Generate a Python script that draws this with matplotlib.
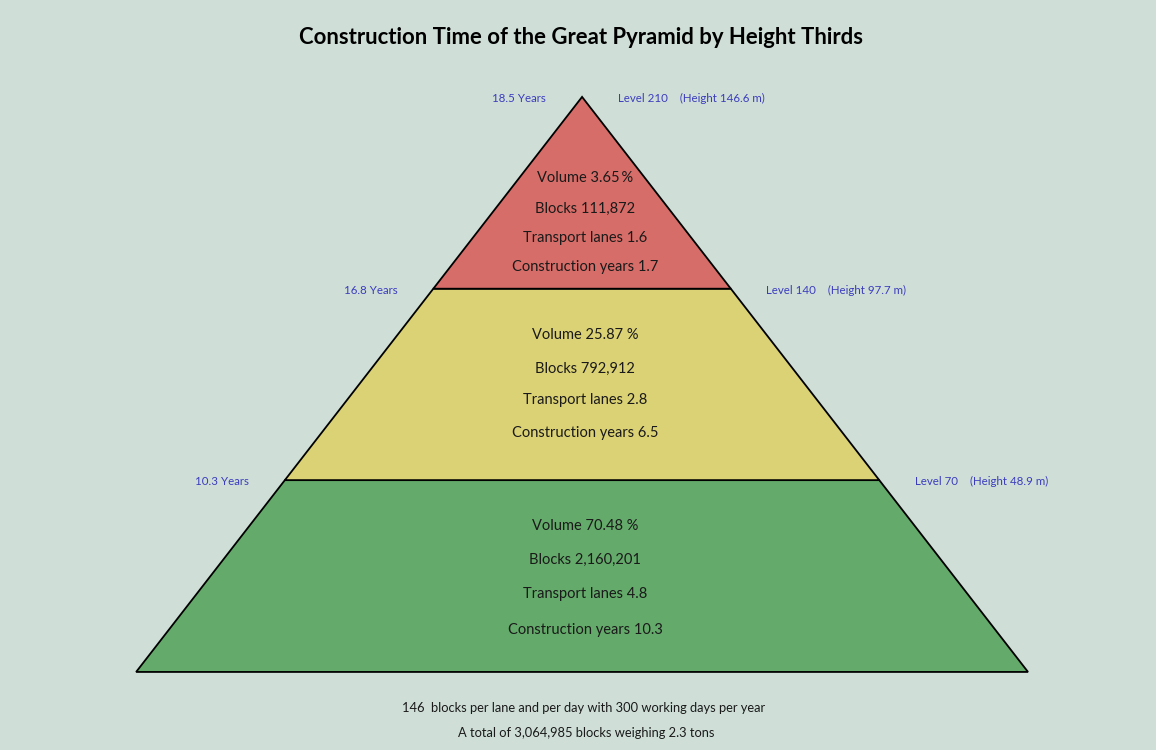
import matplotlib
matplotlib.use("Agg")
import matplotlib.pyplot as plt

# ---------------- data ----------------
level_names = ["Level 70", "Level 140", "Level 210"]
level_heights = [48.9, 97.7, 146.6]          # m, top of each third
tier_bottoms = [0.0, 48.9, 97.7]              # m
tier_tops = [48.9, 97.7, 146.6]               # m
volume_pct = ["70.48 %", "25.87 %", "3.65\u2009%"]
blocks = [2160201, 792912, 111872]
lanes = [4.8, 2.8, 1.6]
years = [10.3, 6.5, 1.7]
cumulative_years = [10.3, 16.8, 18.5]
base_width = 230.3                            # m
title = "Construction Time of the Great Pyramid by Height Thirds"
footer_lines = ["146  blocks per lane and per day with 300 working days per year",
                "A total of 3,064,985 blocks weighing 2.3 tons"]

# ---------------- style ----------------
bg = "#cfdfd8"
tier_colors = ["#64aa6a", "#dbd175", "#d76d68"]
blue = "#3c3cbc"
# row offsets (m above tier bottom) for the four text lines
row_offsets = [[37.2, 28.6, 19.9, 10.7],
               [37.0, 28.4, 20.5, 12.1],
               [28.3, 20.4, 13.0, 5.6]]

fig = plt.figure(figsize=(11.56, 7.5), dpi=100, facecolor=bg)
ax = fig.add_axes([0, 0, 1, 1])
ax.set_facecolor(bg)
ax.set_xlim(-150.3, 148.2)
ax.set_ylim(-19.9, 171.3)
ax.axis("off")

H = level_heights[-1]
half = base_width / 2


def hw(h):
    return half * (1 - h / H)


for i in range(3):
    b, t = tier_bottoms[i], tier_tops[i]
    xs = [-hw(b), hw(b), hw(t), -hw(t)]
    ys = [b, b, t, t]
    ax.fill(xs, ys, facecolor=tier_colors[i], edgecolor="black", lw=1.3,
            joinstyle="miter", zorder=2)

fam = ["Lato", "DejaVu Sans"]
for i in range(3):
    lines = [f"Volume {volume_pct[i]}",
             f"Blocks {blocks[i]:,}",
             f"Transport lanes {lanes[i]}",
             f"Construction years {years[i]}"]
    for txt, off in zip(lines, row_offsets[i]):
        ax.text(0.8, tier_bottoms[i] + off, txt, ha="center", va="center",
                fontsize=10.5, family=fam, color="#1a1a1a", zorder=3)

# side labels at level lines
for i in range(3):
    h = level_heights[i]
    w = hw(h)
    ax.text(-w - 9.3, h - 0.4, f"{cumulative_years[i]} Years", ha="right",
            va="center", fontsize=8.3, family=fam, color=blue)
    ax.text(w + 9.2, h - 0.4, f"{level_names[i]}    (Height {level_heights[i]} m)",
            ha="left", va="center", fontsize=8.3, family=fam, color=blue)

fig.text(0.5025, 1 - 37 / 750, title, ha="center", va="center",
         fontsize=15.9, fontweight="bold", family=fam, color="black")

fig.text(0.505, 1 - 708 / 750, footer_lines[0], ha="center", va="center",
         fontsize=9.3, family=fam, color="#1a1a1a")
fig.text(0.507, 1 - 733 / 750, footer_lines[1], ha="center", va="center",
         fontsize=9.3, family=fam, color="#1a1a1a")

fig.savefig("out.png", dpi=100, facecolor=bg)
